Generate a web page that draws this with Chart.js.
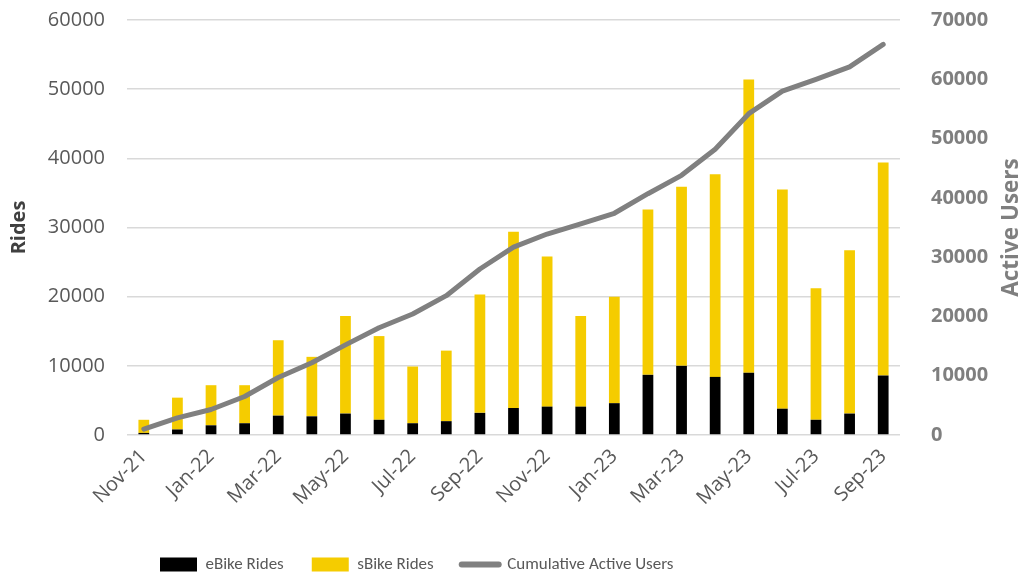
<!DOCTYPE html>
<html lang="en">
<head>
    <meta charset="UTF-8">
    <script src="https://cdn.jsdelivr.net/npm/chart.js"></script>
    <title>Rides and Active Users</title>
    <style>
        body { margin: 0; background: #fff; }
        .wrap { width: 1024px; height: 575px; position: relative; }
    </style>
</head>
<body>
    <div class="wrap">
        <canvas id="chart-rides"></canvas>
    </div>

<script>
    const months = ['Nov-21', 'Dec-21', 'Jan-22', 'Feb-22', 'Mar-22', 'Apr-22', 'May-22', 'Jun-22', 'Jul-22', 'Aug-22', 'Sep-22', 'Oct-22',
        'Nov-22', 'Dec-22', 'Jan-23', 'Feb-23', 'Mar-23', 'Apr-23', 'May-23', 'Jun-23', 'Jul-23', 'Aug-23', 'Sep-23'];
    const eBikeRides = [300, 800, 1400, 1700, 2800, 2700, 3100, 2200, 1700, 2000, 3200, 3900,
        4100, 4100, 4600, 8700, 10000, 8400, 9000, 3800, 2200, 3100, 8600];
    const sBikeRides = [1900, 4600, 5800, 5500, 10900, 8600, 14100, 12100, 8200, 10200, 17100, 25500,
        21700, 13100, 15400, 23900, 25900, 29300, 42400, 31700, 19000, 23600, 30800];
    const activeUsers = [1000, 2900, 4300, 6500, 9700, 12200, 15200, 18100, 20400, 23500, 28000, 31700,
        33900, 35600, 37400, 40700, 43800, 48200, 54200, 58000, 60000, 62100, 65900];

    const tickFont = { family: "'Open Sans', sans-serif", size: 20, lineHeight: 1 };
    const legendFamily = "Carlito, 'Liberation Sans Narrow', 'DejaVu Sans Condensed', 'Open Sans', sans-serif";

    // right axis title reads bottom-to-top, chart.js would rotate it the other way
    const rightTitle = {
        id: 'rightTitle',
        afterDraw(chart) {
            const c = chart.ctx;
            const a = chart.scales.y1;
            c.save();
            c.translate(1012, (a.top + a.bottom) / 2);
            c.rotate(-Math.PI / 2);
            c.font = "bold 22.5px 'Open Sans', sans-serif";
            c.fillStyle = '#7f7f7f';
            c.textAlign = 'center';
            c.textBaseline = 'middle';
            c.fillText('Active Users', 0, 0);
            c.restore();
        }
    };

    // legend sits left of centre in the original
    const legendShift = {
        id: 'legendShift',
        afterLayout(chart) {
            chart.legend.left = 132;
        }
    };

    // vertical axes: drop the tick padding chart.js adds above/below
    const fitY = w => s => { s.width = w; s.paddingTop = 0; s.paddingBottom = 0; };

    new Chart(document.getElementById('chart-rides'), {
        type: 'bar',
        data: {
            labels: months,
            datasets: [{
                label: 'eBike Rides',
                data: eBikeRides,
                backgroundColor: '#000000',
                yAxisID: 'y',
                stack: 'rides',
                order: 1,
                categoryPercentage: 1,
                barPercentage: 0.32
            },
            {
                label: 'sBike Rides',
                data: sBikeRides,
                backgroundColor: '#f5cc00',
                yAxisID: 'y',
                stack: 'rides',
                order: 1,
                categoryPercentage: 1,
                barPercentage: 0.32
            },
            {
                type: 'line',
                label: 'Cumulative Active Users',
                data: activeUsers,
                borderColor: '#808080',
                backgroundColor: '#808080',
                borderWidth: 5,
                borderCapStyle: 'round',
                borderJoinStyle: 'round',
                pointRadius: 0,
                tension: 0,
                yAxisID: 'y1',
                order: 0
            }]
        },
        options: {
            responsive: true,
            maintainAspectRatio: false,
            animation: false,
            layout: {
                padding: { top: 20, right: 0, bottom: -8, left: 0 }
            },
            plugins: {
                tooltip: { enabled: false },
                legend: {
                    position: 'bottom',
                    align: 'start',
                    labels: {
                        sort: (a, b) => a.datasetIndex - b.datasetIndex,
                        usePointStyle: true,
                        pointStyleWidth: 37,
                        boxHeight: 14,
                        padding: 28,
                        color: '#595959',
                        font: { family: legendFamily, size: 17 },
                        generateLabels(chart) {
                            const items = Chart.defaults.plugins.legend.labels.generateLabels(chart);
                            items.forEach(it => {
                                if (it.datasetIndex === 2) {
                                    it.pointStyle = 'line';
                                    it.lineWidth = 6;
                                    it.lineCap = 'round';
                                } else {
                                    it.pointStyle = 'rect';
                                    it.lineWidth = 0;
                                }
                            });
                            return items;
                        }
                    }
                }
            },
            scales: {
                x: {
                    afterFit: s => { s.height = 93; },
                    grid: { display: false },
                    border: { display: false },
                    ticks: {
                        autoSkip: false,
                        minRotation: 45,
                        maxRotation: 45,
                        color: '#595959',
                        font: tickFont,
                        callback: function (v, i) { return i % 2 === 0 ? this.getLabelForValue(v) : ''; }
                    }
                },
                y: {
                    position: 'left',
                    min: 0,
                    max: 60000,
                    afterFit: fitY(127),
                    grid: { color: '#d9d9d9', lineWidth: 1.5, drawTicks: false },
                    border: { display: false },
                    ticks: {
                        stepSize: 10000,
                        padding: 22,
                        color: '#595959',
                        font: tickFont,
                        callback: v => String(v)
                    },
                    title: {
                        display: true,
                        text: 'Rides',
                        color: '#404040',
                        padding: { top: 7, bottom: 0 },
                        font: { family: "'Open Sans', sans-serif", size: 20, weight: 'bold' }
                    }
                },
                y1: {
                    position: 'right',
                    min: 0,
                    max: 70000,
                    afterFit: fitY(124),
                    grid: { display: false },
                    border: { display: false },
                    ticks: {
                        stepSize: 10000,
                        padding: 23,
                        color: '#7f7f7f',
                        font: { family: "'Open Sans', sans-serif", size: 20, weight: 'bold', lineHeight: 1 },
                        callback: v => String(v)
                    }
                }
            }
        },
        plugins: [rightTitle, legendShift]
    });
</script>
</body>
</html>
